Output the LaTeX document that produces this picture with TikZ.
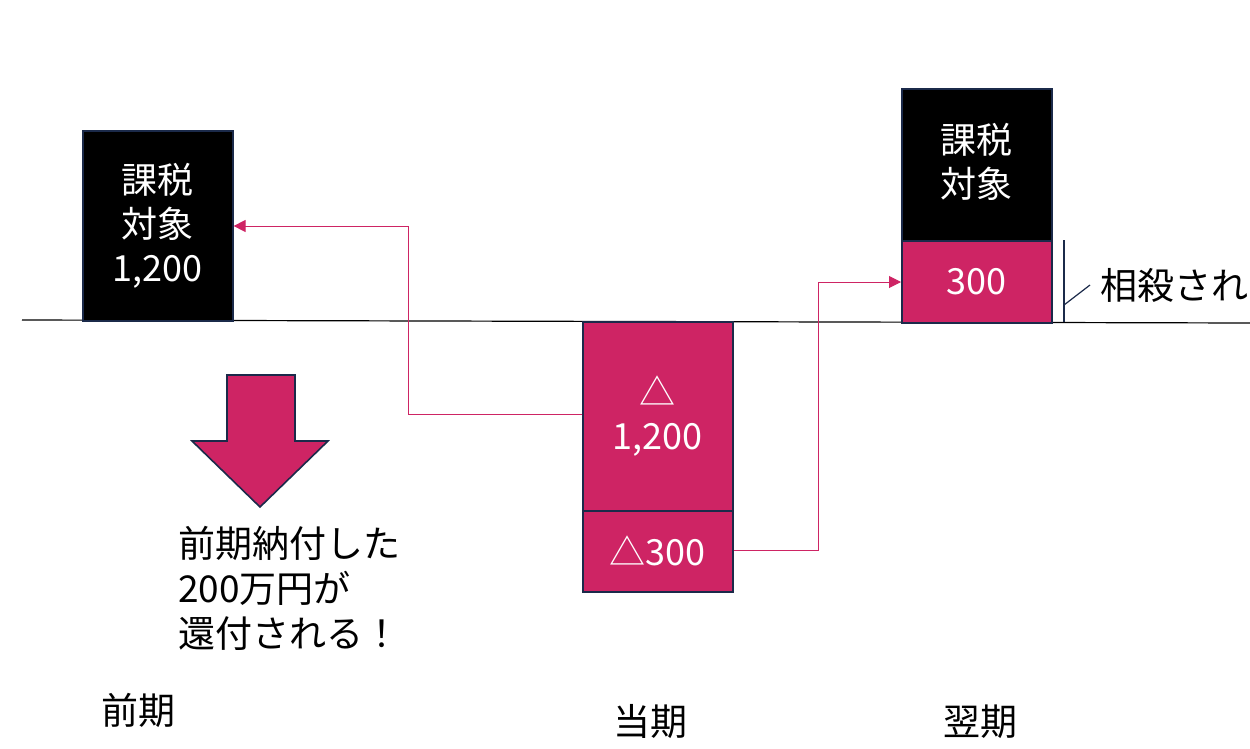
\documentclass[tikz,border=0pt]{standalone}
\usepackage{fontspec}
\setmainfont{Noto Sans CJK JP}
\usetikzlibrary{arrows.meta}
\definecolor{mag}{RGB}{206,36,100}
\definecolor{navy}{RGB}{27,42,74}
\tikzset{
  box/.style={draw=navy,line width=1.6pt,minimum width=150pt,inner sep=0pt,align=center,text=white,font=\fontsize{36}{44}\selectfont},
  blackbox/.style={box,fill=black},
  magbox/.style={box,fill=mag},
  link/.style={draw=mag,line width=1pt,-{Triangle[length=12pt,width=12pt]}},
  lbl/.style={font=\fontsize{37}{45}\selectfont,text=black,inner sep=0pt},
}
\begin{document}
\begin{tikzpicture}[x=1pt,y=-1pt]
\useasboundingbox (0,0) rectangle (1250,749);
% base line
\draw[line width=1.2pt] (22,320) -- (1250,323);
% boxes
\node[blackbox,minimum height=190pt,anchor=north west] (b1) at (82,130) {課税\\対象\\1,200};
\node[magbox,minimum height=189pt,anchor=north west] (b2) at (582,321) {△\\1,200};
\node[magbox,minimum height=81pt,anchor=north west] (b3) at (582,510) {△300};
\node[blackbox,minimum height=152pt,anchor=north west,text depth=0pt] (b4) at (901,88) {};
\node[text=white,align=center,font=\fontsize{36}{44}\selectfont,inner sep=0pt] (b4t) at (976,162) {課税\\対象};
\node[magbox,minimum height=82pt,anchor=north west] (b5) at (901,240) {300};
% connectors
\coordinate (c1) at (408,414);
\coordinate (c2) at (408,226);
\draw[link] (b2.west |- c1) -- (c1) -- (c2) -- (b1.east |- c2);
\coordinate (d1) at (818,550);
\coordinate (d2) at (818,282);
\draw[link] (b3.east |- d1) -- (d1) -- (d2) -- (b5.west |- d2);
% offset mark
\coordinate (m1) at (1064,240);
\coordinate (m2) at (1064,322);
\coordinate (m3) at (1064,305);
\coordinate (m4) at (1090,285);
\draw[navy,line width=1.6pt] (m1) -- (m2);
\draw[navy,line width=1.2pt] (m3) -- (m4);
\node[lbl,anchor=west] (sosai) at (1100,285) {相殺され};
% down arrow
\draw[navy,line width=1.6pt,fill=mag] (227,375) -- (295,375) -- (295,441) -- (328,441) -- (260,507) -- (192,441) -- (227,441) -- cycle;
\node[lbl,anchor=north west,align=left] (note) at (178,526) {前期納付した\\200万円が\\還付される！};
% period labels
\node[lbl] (p1) at (138,710) {前期};
\node[lbl] (p2) at (650,722) {当期};
\node[lbl] (p3) at (980,722) {翌期};
\end{tikzpicture}
\end{document}
